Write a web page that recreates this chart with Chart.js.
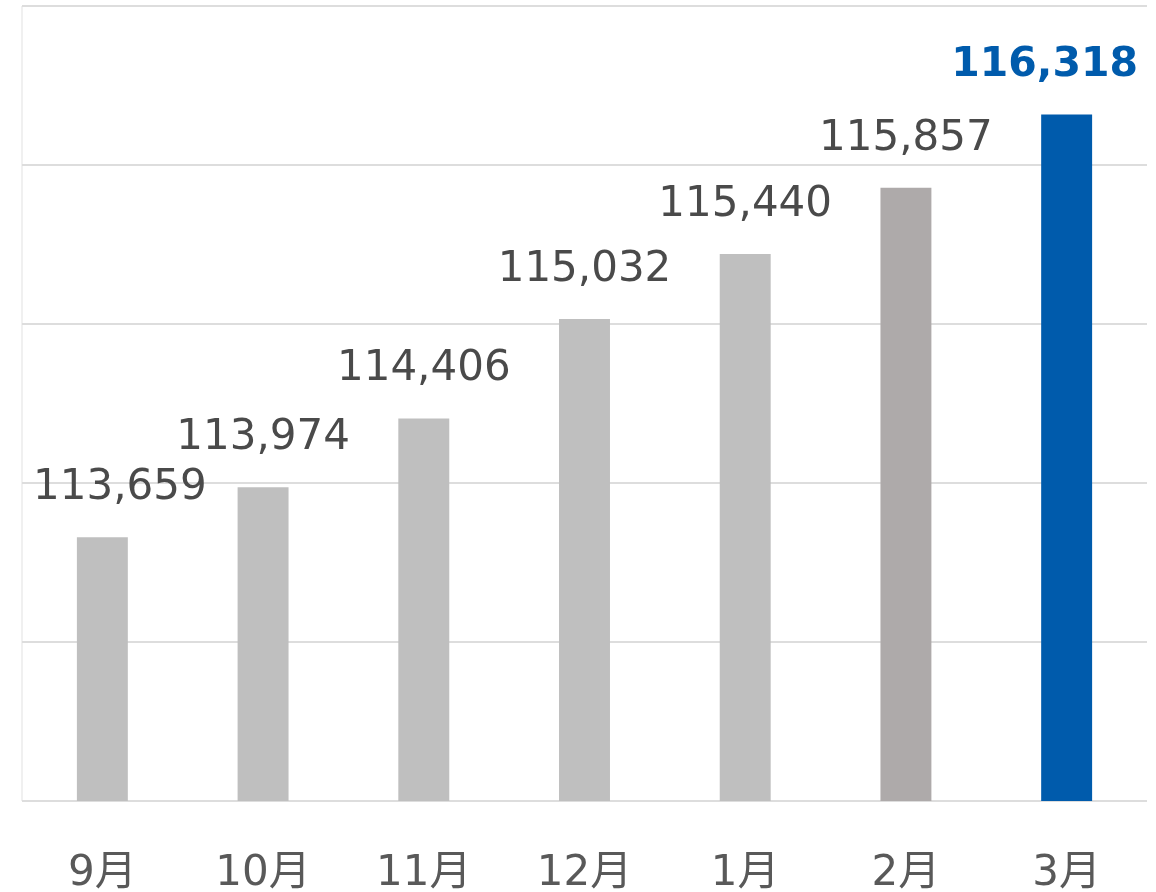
<!DOCTYPE html>
<html>
<head>
<meta charset="utf-8">
<script src="https://cdn.jsdelivr.net/npm/chart.js@4"></script>
<style>
  html, body { margin: 0; padding: 0; background: #fff; }
  #wrap { width: 1156px; height: 892px; }
</style>
</head>
<body>
<div id="wrap"><canvas id="myChart"></canvas></div>
<script>
var months = ['9月', '10月', '11月', '12月', '1月', '2月', '3月'];
var members = [113659, 113974, 114406, 115032, 115440, 115857, 116318];
var barColors = ['#BFBFBF', '#BFBFBF', '#BFBFBF', '#BFBFBF', '#BFBFBF', '#AEAAAA', '#005BAC'];
var yTicks = [112000, 113000, 114000, 115000, 116000, 117000];

var fontFamily = '"DejaVu Sans", "Noto Sans CJK JP", sans-serif';

// value labels above bars, kept inside the plot area like Excel does
var valueLabels = {
    id: 'valueLabels',
    afterDatasetsDraw: function (chart) {
        var ctx = chart.ctx;
        var area = chart.chartArea;
        var meta = chart.getDatasetMeta(0);
        ctx.save();
        ctx.textAlign = 'center';
        ctx.textBaseline = 'alphabetic';
        meta.data.forEach(function (bar, i) {
            var last = i === members.length - 1;
            ctx.font = (last ? 'bold 41px ' : '42px ') + fontFamily;
            ctx.fillStyle = last ? '#005BAC' : '#4A4A4A';
            var text = members[i].toLocaleString('en-US');
            var w = ctx.measureText(text).width;
            var x = bar.x;
            x = Math.max(x, area.left + 11 + w / 2);
            x = Math.min(x, area.right - 9 - w / 2);
            ctx.fillText(text, x, bar.y - 38);
        });
        ctx.restore();
    }
};

var ctx = document.getElementById('myChart').getContext('2d');
new Chart(ctx, {
    type: 'bar',
    data: {
        labels: months,
        datasets: [{
            data: members,
            backgroundColor: barColors,
            barPercentage: 0.317,
            categoryPercentage: 1
        }]
    },
    options: {
        responsive: true,
        maintainAspectRatio: false,
        animation: false,
        layout: { padding: { left: 22, right: 9, top: 6, bottom: 0 } },
        plugins: {
            legend: { display: false },
            tooltip: { enabled: false }
        },
        scales: {
            x: {
                offset: true,
                border: { display: false },
                grid: {
                    offset: true,
                    drawTicks: false,
                    lineWidth: 2,
                    color: function (c) {
                        return (c.index === 0 || c.index === months.length) ? '#F0F0F0' : 'rgba(0,0,0,0)';
                    }
                },
                afterFit: function (axis) { axis.height = 91; },
                ticks: {
                    color: '#595959',
                    padding: 48,
                    font: { family: fontFamily, size: 42 }
                }
            },
            y: {
                min: yTicks[0],
                max: yTicks[yTicks.length - 1],
                border: { display: false },
                grid: { color: '#DDDDDD', lineWidth: 2, drawTicks: false },
                afterBuildTicks: function (axis) {
                    axis.ticks = yTicks.map(function (v) { return { value: v }; });
                },
                afterFit: function (axis) { axis.width = 0; },
                ticks: { display: false }
            }
        }
    },
    plugins: [valueLabels]
});
</script>
</body>
</html>
